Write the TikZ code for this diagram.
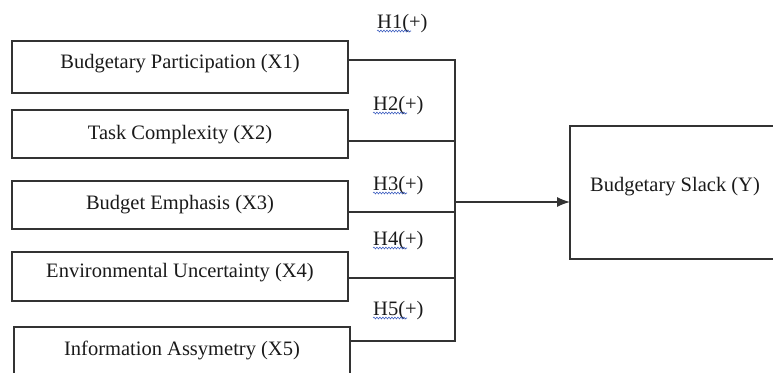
\documentclass[tikz,border=0pt]{standalone}
\usepackage{fontspec}
\setmainfont{Liberation Serif}
\usetikzlibrary{arrows.meta,decorations.pathmorphing}
\definecolor{ink}{HTML}{1A1A1A}
\definecolor{edge}{HTML}{333333}
\definecolor{squiggle}{HTML}{3F5FC0}
\begin{document}
\begin{tikzpicture}[x=1pt,y=-1pt,
  box/.style={draw=edge,line width=1.3pt,inner sep=0pt,outer sep=0pt,
    minimum width=336pt,minimum height=#1},
  box/.default=50pt,
  caption/.style={inner sep=0pt,anchor=base,text=ink,
    font=\fontsize{20.5}{24}\selectfont},
  hyp/.style={inner sep=0pt,anchor=base west,text=ink,
    font=\fontsize{20.5}{24}\selectfont},
  wire/.style={draw=edge,line width=1.3pt},
  spell/.style={draw=squiggle,line width=0.6pt,
    decorate,decoration={snake,amplitude=0.9pt,segment length=3pt}}]
  \useasboundingbox (0,0) rectangle (773,372);
  \clip (0,0) rectangle (773,372);

  % independent variables
  \node[box=52pt] (b1) at (180,67) {};
  \node[box=48pt] (b2) at (180,134) {};
  \node[box=48pt] (b3) at (180,205) {};
  \node[box=49pt] (b4) at (180,276.5) {};
  \node[box=60pt] (b5) at (182,357) {};
  \node[caption] (t1) at (180,68) {Budgetary Participation (X1)};
  \node[caption] (t2) at (180,139) {Task Complexity (X2)};
  \node[caption] (t3) at (180,209) {Budget Emphasis (X3)};
  \node[caption] (t4) at (180,277) {Environmental Uncertainty (X4)};
  \node[caption] (t5) at (182,355) {Information Assymetry (X5)};

  % dependent variable
  \node[draw=edge,line width=1.3pt,inner sep=0pt,outer sep=0pt,
    minimum width=240pt,minimum height=133pt] (y) at (690,192.5) {};
  \node[hyp] (ty) at (590,191) {Budgetary Slack (Y)};

  % collecting bus
  \coordinate (j1) at (455,60);
  \coordinate (j2) at (455,141);
  \coordinate (j3) at (455,212);
  \coordinate (j4) at (455,278);
  \coordinate (j5) at (455,341);
  \coordinate (jm) at (455,202);
  \draw[wire] (j1 -| b1.east) -- (j1) -- (j5) -- (j5 -| b5.east);
  \draw[wire] (j2 -| b2.east) -- (j2);
  \draw[wire] (j3 -| b3.east) -- (j3);
  \draw[wire] (j4 -| b4.east) -- (j4);
  \draw[wire,-{Latex[length=13pt,width=10pt]}] (jm) -- (jm -| y.west);

  % hypothesis labels
  \node[hyp] (h1) at (377,28) {H1(+)};
  \node[hyp] (h2) at (373,110) {H2(+)};
  \node[hyp] (h3) at (373,190) {H3(+)};
  \node[hyp] (h4) at (373,245) {H4(+)};
  \node[hyp] (h5) at (373,315) {H5(+)};
  \foreach \h in {h1,h2,h3,h4,h5}{
    \draw[spell] ([yshift=-3pt]\h.base west) -- ++(34,0);
  }
\end{tikzpicture}
\end{document}
